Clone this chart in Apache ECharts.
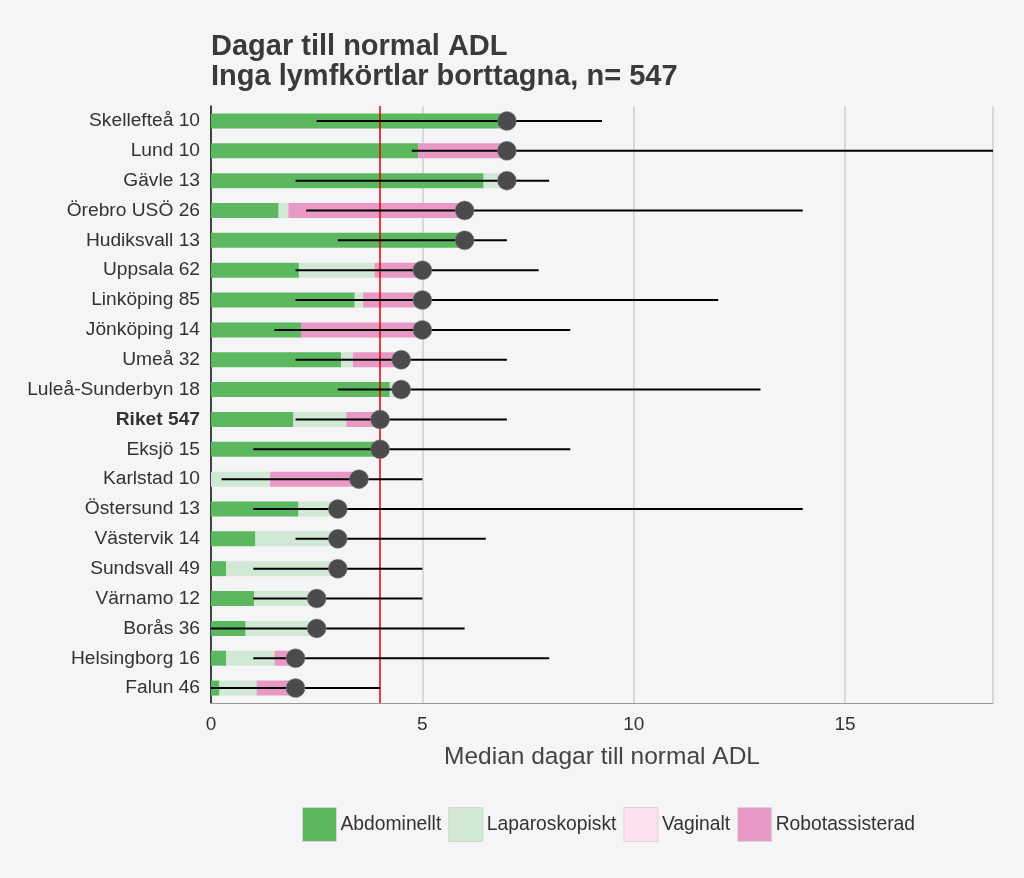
<!DOCTYPE html>
<html><head><meta charset="utf-8">
<script src="https://cdn.jsdelivr.net/npm/echarts@6/dist/echarts.min.js"></script>
<style>html,body{margin:0;padding:0;background:#f5f4f7;}#c{width:1024px;height:878px;}</style>
</head><body><div id="c"></div>
<script>
const names = ["Skellefteå 10","Lund 10","Gävle 13","Örebro USÖ 26","Hudiksvall 13","Uppsala 62","Linköping 85","Jönköping 14","Umeå 32","Luleå-Sunderbyn 18","Riket 547","Eksjö 15","Karlstad 10","Östersund 13","Västervik 14","Sundsvall 49","Värnamo 12","Borås 36","Helsingborg 16","Falun 46"];
const median = [7,7,7,6,6,5,5,5,4.5,4.5,4,4,3.5,3,3,3,2.5,2.5,2,2];
const abdominellt = [7,4.9,6.45,1.6,6,2.08,3.4,2.13,3.08,4.23,1.95,4,0,2.07,1.05,0.36,1.02,0.82,0.36,0.2];
const laparoskopiskt = [0,0,0.55,0.23,0,1.79,0.2,0,0.28,0.27,1.25,0,1.4,0.93,1.95,2.64,1.48,1.68,1.14,0.88];
const vaginalt = [0,0,0,0,0,0,0,0,0,0,0,0,0,0,0,0,0,0,0,0];
const robotassisterad = [0,2.1,0,4.17,0,1.13,1.4,2.87,1.14,0,0.8,0,2.1,0,0,0,0,0,0.5,0.92];
const low = [2.5,4.75,2,2.25,3,2,2,1.5,2,3,2,1,0.25,1,2,1,1,0,1,0];
const high = [9.25,18.5,8,14,7,7.75,12,8.5,7,13,7,8.5,5,14,6.5,5,5,6,8,4];
const riketMedian = 4;
const xTicks = [0,5,10,15];

const chart = echarts.init(document.getElementById('c'));
const font = 'Liberation Sans, Arial, sans-serif';
const barSeries = (name, data, color) => ({
  name, type: 'bar', stack: 'm', data, barWidth: 15, z: 2,
  itemStyle: {color}, emphasis: {disabled: true}
});
chart.setOption({
  backgroundColor: '#f5f4f7',
  textStyle: {fontFamily: font},
  title: {
    text: 'Dagar till normal ADL\nInga lymfkörtlar borttagna, n= 547',
    left: 206, top: 27,
    textStyle: {fontSize: 29, fontWeight: 'bold', color: '#3a3a3a', lineHeight: 30, fontFamily: font}
  },
  legend: {
    left: 297, top: 802, itemWidth: 34, itemHeight: 34, itemGap: 7,
    icon: 'rect',
    data: ['Abdominellt','Laparoskopiskt','Vaginalt','Robotassisterad'],
    textStyle: {fontSize: 19.3, color: '#333', padding: [0,0,0,-1]},
    itemStyle: {borderColor: '#d6d6d6', borderWidth: 1},
    selectedMode: false
  },
  grid: {left: 211, right: 31, top: 106, bottom: 175},
  xAxis: {
    type: 'value', min: 0, max: 18.5, interval: 5,
    name: 'Median dagar till normal ADL', nameLocation: 'middle', nameGap: 42,
    nameTextStyle: {fontSize: 24.5, color: '#444'},
    axisLine: {show: true, lineStyle: {color: '#999', width: 1}},
    axisTick: {show: false},
    axisLabel: {fontSize: 19, color: '#333', margin: 12,
      formatter: v => xTicks.includes(v) ? String(v) : ''},
    splitLine: {show: true, lineStyle: {color: '#cfcfcf', width: 1.5}}
  },
  yAxis: {
    type: 'category', data: names, inverse: true,
    axisLine: {show: true, lineStyle: {color: '#111', width: 1.5}},
    axisTick: {show: false},
    axisLabel: {fontSize: 19.2, color: '#333', margin: 11,
      formatter: v => v.startsWith('Riket') ? '{b|' + v + '}' : v,
      rich: {b: {fontWeight: 'bold', fontSize: 19.2, color: '#333'}}},
    splitLine: {show: false}
  },
  series: [
    barSeries('Abdominellt', abdominellt, '#5cb85f'),
    barSeries('Laparoskopiskt', laparoskopiskt, '#d1e9d4'),
    barSeries('Vaginalt', vaginalt, '#fde0ee'),
    barSeries('Robotassisterad', robotassisterad, '#e898c4'),
    {
      type: 'custom', z: 5, silent: true,
      data: names.map((n, i) => [i, low[i], high[i]]),
      encode: {x: [1, 2], y: 0},
      renderItem: (params, api) => {
        const a = api.coord([api.value(1), api.value(0)]);
        const b = api.coord([api.value(2), api.value(0)]);
        return {type: 'line', shape: {x1: a[0], y1: a[1], x2: b[0], y2: b[1]},
          style: {stroke: '#000', lineWidth: 2}};
      }
    },
    {
      type: 'scatter', z: 6, silent: true, symbolSize: 19,
      data: median.map((m, i) => [m, names[i]]),
      itemStyle: {color: '#4b4b4d', borderColor: '#888', borderWidth: 0.5, opacity: 1},
      markLine: {
        silent: true, symbol: 'none', label: {show: false},
        lineStyle: {color: '#e00000', width: 1.5, type: 'solid'},
        data: [{xAxis: riketMedian}]
      }
    }
  ]
});
</script></body></html>
